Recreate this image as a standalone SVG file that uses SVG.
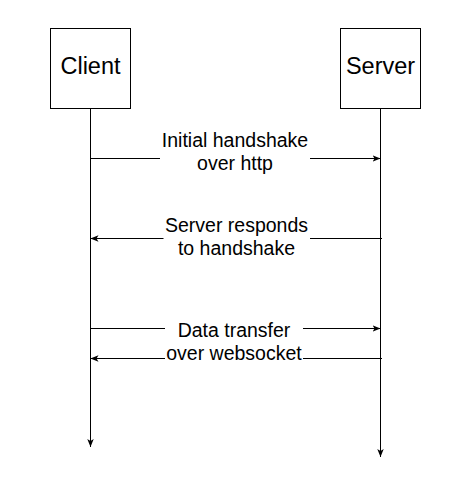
<svg xmlns="http://www.w3.org/2000/svg" width="465" height="490" viewBox="0 0 465 490">
<style>
.box{fill:#fff;stroke:#000;stroke-width:1}
.ln{fill:none;stroke:#000;stroke-width:1}
.t{font-family:"Liberation Sans",Arial,sans-serif;fill:#000;text-anchor:middle}
.big{font-size:23.5px}
.lbl{font-size:19.5px}
.bg{fill:#fff;stroke:none}
</style>
<defs>
<marker id="arr" viewBox="0 0 10 8" markerWidth="8" markerHeight="7" refX="10" refY="4" orient="auto" markerUnits="userSpaceOnUse">
<path d="M0,0 L10,4 L0,8 L2.5,4 Z" fill="#000"/>
</marker>
</defs>
<rect width="465" height="490" fill="#fff"/>
<g id="client">
<rect class="box" x="50.5" y="28.5" width="80" height="80"/>
<text class="t big" x="90.5" y="74">Client</text>
</g>
<g id="server">
<rect class="box" x="340.5" y="28.5" width="80" height="80"/>
<text class="t big" x="380.5" y="74">Server</text>
</g>
<g id="connectors">
<line class="ln" x1="90.5" y1="108.5" x2="90.5" y2="447" marker-end="url(#arr)"/>
<line class="ln" x1="380.5" y1="108.5" x2="380.5" y2="457" marker-end="url(#arr)"/>
<line class="ln" x1="90.5" y1="158.5" x2="380.5" y2="158.5" marker-end="url(#arr)"/>
<rect class="bg" x="160" y="128" width="150" height="46"/>
<text class="t lbl" x="235" y="146.5">Initial handshake</text>
<text class="t lbl" x="235" y="170">over http</text>
<line class="ln" x1="382" y1="238.5" x2="90.5" y2="238.5" marker-end="url(#arr)"/>
<rect class="bg" x="163.5" y="212" width="146.5" height="46"/>
<text class="t lbl" x="236.5" y="231.5">Server responds</text>
<text class="t lbl" x="236.5" y="255">to handshake</text>
<line class="ln" x1="90.5" y1="328.5" x2="380.5" y2="328.5" marker-end="url(#arr)"/>
<line class="ln" x1="382" y1="358.5" x2="90.5" y2="358.5" marker-end="url(#arr)"/>
<rect class="bg" x="165" y="319" width="138" height="46"/>
<text class="t lbl" x="234" y="337.3">Data transfer</text>
<text class="t lbl" x="234" y="360">over websocket</text>
</g>
</svg>
